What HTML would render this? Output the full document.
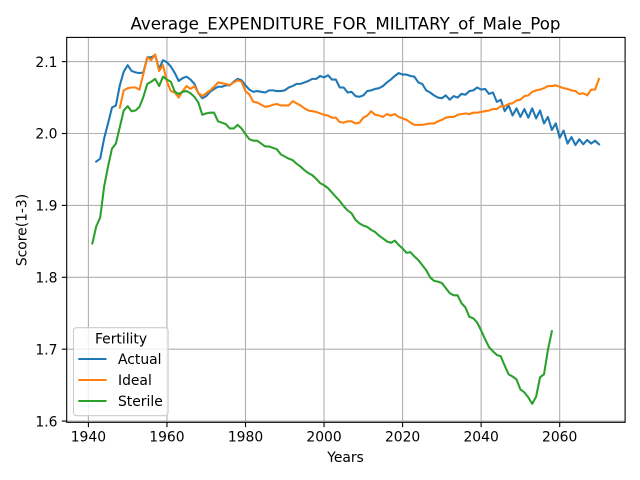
<!DOCTYPE html>
<html>
<head>
<meta charset="utf-8">
<title>Average_EXPENDITURE_FOR_MILITARY_of_Male_Pop</title>
<style>
html,body{margin:0;padding:0;background:#fff;}
svg{display:block;font-family:"DejaVu Sans","Liberation Sans",sans-serif;}
</style>
</head>
<body>
<svg id="chart" xmlns="http://www.w3.org/2000/svg" width="640" height="480" viewBox="0 0 640 480">
<rect width="640" height="480" fill="#fff"/>
<g id="grid"></g>
<g id="series"></g>
<rect x="66.7" y="37.4" width="558.4" height="384.9" fill="none" stroke="#000" stroke-width="1.1"/>
<g id="ticks"></g>
<text x="345.5" y="29.5" text-anchor="middle" font-size="16.67" fill="#000">Average_EXPENDITURE_FOR_MILITARY_of_Male_Pop</text>
<text x="345.5" y="462" text-anchor="middle" font-size="13.89" fill="#000">Years</text>
<text transform="translate(26.5 230) rotate(-90)" text-anchor="middle" font-size="13.89" fill="#000">Score(1-3)</text>
<g>
<rect x="73.5" y="327.7" width="94.6" height="88" rx="3" ry="3" fill="#fff" fill-opacity="0.8" stroke="#ccc" stroke-width="1.1"/>
<text x="121" y="343.5" text-anchor="middle" font-size="13.89" fill="#000">Fertility</text>
<line x1="78.3" x2="106.5" y1="359" y2="359" stroke="#1f77b4" stroke-width="2.08"/>
<text x="118" y="364" font-size="13.89" fill="#000">Actual</text>
<line x1="78.3" x2="106.5" y1="380" y2="380" stroke="#ff7f0e" stroke-width="2.08"/>
<text x="118" y="385" font-size="13.89" fill="#000">Ideal</text>
<line x1="78.3" x2="106.5" y1="401" y2="401" stroke="#2ca02c" stroke-width="2.08"/>
<text x="118" y="406" font-size="13.89" fill="#000">Sterile</text>
</g>
</svg>
<script>
const xTickValues = [1940, 1960, 1980, 2000, 2020, 2040, 2060];
const yTickValues = [1.6, 1.7, 1.8, 1.9, 2.0, 2.1];
const yTickLabels = ["1.6", "1.7", "1.8", "1.9", "2.0", "2.1"];

const actualStartYear = 1942;
const actualValues = [
1.961,1.965,1.993,2.014,2.036,2.039,2.067,2.086,
2.095,2.087,2.085,2.084,2.085,2.106,2.106,2.109,2.090,2.102,
2.099,2.093,2.084,2.073,2.077,2.079,2.075,2.069,2.056,2.049,
2.052,2.058,2.062,2.065,2.065,2.067,2.067,2.072,2.076,2.074,
2.067,2.061,2.058,2.059,2.058,2.057,2.060,2.060,2.059,2.059,
2.060,2.064,2.066,2.069,2.069,2.071,2.073,2.076,2.076,2.080,
2.078,2.081,2.075,2.075,2.064,2.064,2.057,2.058,2.052,2.051,
2.053,2.059,2.060,2.062,2.063,2.066,2.071,2.075,2.080,2.084,
2.082,2.082,2.080,2.079,2.071,2.069,2.060,2.057,2.053,2.050,
2.049,2.053,2.047,2.052,2.050,2.055,2.054,2.059,2.060,2.064,
2.061,2.062,2.055,2.057,2.044,2.047,2.031,2.039,2.025,2.035,
2.023,2.034,2.022,2.035,2.021,2.032,2.014,2.023,2.005,2.014,
1.994,2.004,1.986,1.995,1.984,1.992,1.985,1.991,1.986,1.990,1.985
];

const idealStartYear = 1948;
const idealValues = [
2.036,2.060,
2.063,2.064,2.064,2.061,2.083,2.106,2.102,2.110,2.087,2.095,
2.072,2.059,2.057,2.050,2.059,2.066,2.062,2.066,2.056,2.052,
2.056,2.060,2.065,2.071,2.070,2.069,2.067,2.071,2.074,2.072,
2.059,2.054,2.044,2.043,2.040,2.037,2.038,2.040,2.041,2.039,
2.039,2.039,2.045,2.042,2.039,2.035,2.032,2.031,2.030,2.028,
2.026,2.025,2.022,2.022,2.016,2.015,2.017,2.017,2.014,2.015,
2.022,2.025,2.031,2.026,2.025,2.023,2.027,2.025,2.027,2.023,
2.021,2.019,2.015,2.012,2.012,2.012,2.013,2.014,2.014,2.017,
2.019,2.022,2.023,2.023,2.026,2.027,2.028,2.027,2.029,2.029,
2.030,2.031,2.032,2.034,2.034,2.038,2.038,2.041,2.042,2.046,
2.047,2.052,2.053,2.058,2.060,2.061,2.063,2.066,2.066,2.067,
2.065,2.063,2.062,2.060,2.059,2.055,2.056,2.053,2.061,2.061,2.076
];

const sterileStartYear = 1941;
const sterileValues = [
1.847,1.871,1.883,1.926,1.954,1.979,1.986,2.009,2.032,
2.038,2.031,2.032,2.037,2.051,2.069,2.072,2.076,2.066,2.079,
2.075,2.072,2.058,2.055,2.058,2.059,2.056,2.051,2.043,2.026,
2.028,2.029,2.029,2.017,2.015,2.013,2.007,2.007,2.012,2.007,
1.999,1.992,1.990,1.990,1.986,1.982,1.982,1.980,1.978,1.971,
1.968,1.965,1.963,1.958,1.954,1.949,1.945,1.942,1.937,1.931,
1.928,1.924,1.918,1.912,1.906,1.899,1.893,1.889,1.880,1.875,
1.872,1.870,1.866,1.863,1.858,1.854,1.850,1.848,1.851,1.845,
1.840,1.834,1.835,1.829,1.824,1.817,1.810,1.800,1.795,1.794,
1.792,1.785,1.778,1.775,1.775,1.764,1.758,1.745,1.743,1.737,
1.726,1.714,1.703,1.697,1.692,1.690,1.677,1.665,1.662,1.658,
1.644,1.640,1.633,1.624,1.634,1.661,1.665,1.699,1.725
];

const SVG_NS = "http://www.w3.org/2000/svg";
const AXIS = { left: 66.7, right: 625.1, top: 37.4, bottom: 422.3 };

function xScale(year) { return 88.4 + (year - 1940) * 3.9275; }
function yScale(value) { return 133.5 + (2.0 - value) * 719; }

function make(tag, attrs, parent) {
  const el = document.createElementNS(SVG_NS, tag);
  for (const key in attrs) el.setAttribute(key, attrs[key]);
  parent.appendChild(el);
  return el;
}

const gridGroup = document.getElementById("grid");
const tickGroup = document.getElementById("ticks");
const seriesGroup = document.getElementById("series");

xTickValues.forEach(function (year) {
  const px = xScale(year);
  const gridLine = make("line", { x1: px, x2: px, y1: AXIS.top, y2: AXIS.bottom, stroke: "#b0b0b0", "stroke-width": 1.11 }, gridGroup);
  
  
  const tick = make("line", { x1: px, x2: px, y1: AXIS.bottom, y2: AXIS.bottom + 4.86, stroke: "#000", "stroke-width": 1.11 }, tickGroup);
  
  
  const label = make("text", { x: px, y: 441.5, "text-anchor": "middle", "font-size": 13.89, fill: "#000" }, tickGroup);
  label.textContent = String(year);
  
  
});

yTickValues.forEach(function (value, i) {
  const py = yScale(value);
  const gridLine = make("line", { x1: AXIS.left, x2: AXIS.right, y1: py, y2: py, stroke: "#b0b0b0", "stroke-width": 1.11 }, gridGroup);
  
  
  const tick = make("line", { x1: AXIS.left - 4.86, x2: AXIS.left, y1: py, y2: py, stroke: "#000", "stroke-width": 1.11 }, tickGroup);
  
  
  const label = make("text", { x: 57.5, y: py + 5.2, "text-anchor": "end", "font-size": 13.89, fill: "#000" }, tickGroup);
  label.textContent = yTickLabels[i];
  
  
});

function pointsFor(startYear, values) {
  return values.map(function (value, i) {
    return xScale(startYear + i).toFixed(2) + "," + yScale(value).toFixed(2);
  }).join(" ");
}

const actualLine = make("polyline", { points: pointsFor(actualStartYear, actualValues), fill: "none", stroke: "#1f77b4", "stroke-width": 2.08, "stroke-linejoin": "round", "stroke-linecap": "square" }, seriesGroup);



const idealLine = make("polyline", { points: pointsFor(idealStartYear, idealValues), fill: "none", stroke: "#ff7f0e", "stroke-width": 2.08, "stroke-linejoin": "round", "stroke-linecap": "square" }, seriesGroup);



const sterileLine = make("polyline", { points: pointsFor(sterileStartYear, sterileValues), fill: "none", stroke: "#2ca02c", "stroke-width": 2.08, "stroke-linejoin": "round", "stroke-linecap": "square" }, seriesGroup);


</script>
</body>
</html>
